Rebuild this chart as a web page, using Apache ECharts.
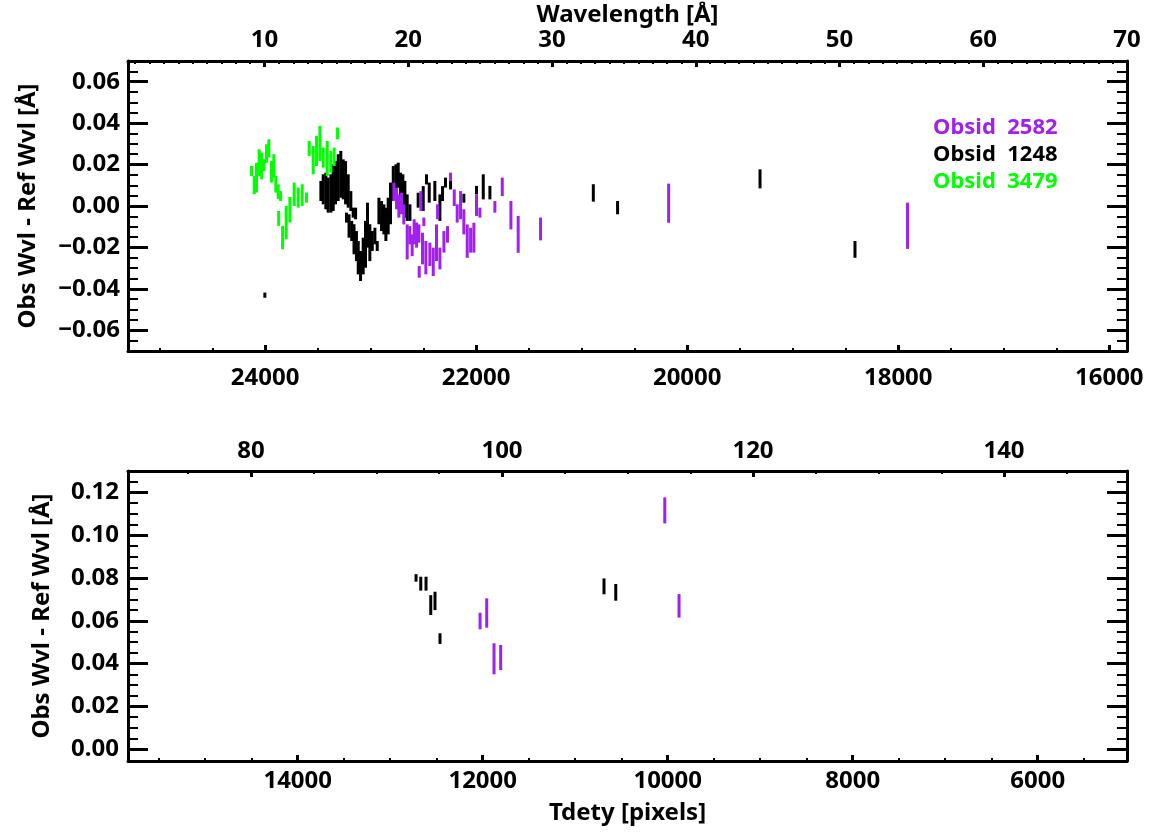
<!DOCTYPE html>
<html>
<head>
<meta charset="utf-8">
<title>Obs Wvl - Ref Wvl vs Tdety</title>
<script src="https://cdn.jsdelivr.net/npm/echarts@6/dist/echarts.min.js"></script>
<style>
html, body { margin: 0; padding: 0; background: #fff; }
#chart { width: 1151px; height: 833px; }
</style>
</head>
<body>
<div id="chart"></div>
<script>
// error bars: tdety position, low and high end of each bar
const obs3479Tdety = [24129, 24104, 24082, 24057, 24034, 24012, 23987, 23965, 23940, 23918, 23899, 23876, 23854, 23872, 23835,
  23801, 23766, 23725, 23687, 23649, 23608, 23583, 23545, 23513, 23481, 23450, 23412, 23377, 23346, 23314];
const obs3479Lo = [0.0145, 0.0057, 0.0065, 0.0145, 0.0129, 0.0169, 0.0209, 0.0234, 0.0113, 0.0137, 0.0065, 0.0033, 0.0024, -0.0096, -0.0209,
  -0.0161, -0.0080, 0.0000, -0.0008, 0.0000, 0.0016, 0.0242, 0.0153, 0.0193, 0.0217, 0.0185, 0.0145, 0.0161, 0.0193, 0.0322];
const obs3479Hi = [0.0193, 0.0145, 0.0209, 0.0274, 0.0258, 0.0226, 0.0298, 0.0322, 0.0217, 0.0250, 0.0145, 0.0105, 0.0073, -0.0024, -0.0096,
  0.0000, 0.0044, 0.0113, 0.0089, 0.0105, 0.0065, 0.0314, 0.0290, 0.0338, 0.0387, 0.0282, 0.0314, 0.0266, 0.0282, 0.0379];

const obs1248Tdety = [24003,
  23472, 23450, 23425, 23403, 23377, 23355, 23333, 23308, 23283, 23260, 23238, 23213, 23188, 23166, 23143,
  23229, 23205, 23180, 23158, 23135, 23118, 23096, 23071, 23049, 23030, 23008, 22985, 22960, 22938,
  22922, 22897, 22875, 22856, 22834, 22812, 22786, 22761, 22739, 22717, 22695, 22676, 22654, 22628,
  22550, 22502, 22471, 22445, 22392, 22344, 22319, 22291, 22243, 22117, 21997, 21933, 21870,
  20890, 20660, 19310, 18410,
  12721, 12670, 12613, 12562, 12516, 12462, 10689, 10562];
const obs1248Lo = [-0.0443,
  0.0024, 0.0008, -0.0016, -0.0032, -0.0032, -0.0024, 0.0008, 0.0024, 0.0040, 0.0032, 0.0008, -0.0008, -0.0024, -0.0056, -0.0064,
  -0.0080, -0.0153, -0.0169, -0.0233, -0.0266, -0.0330, -0.0362, -0.0330, -0.0298, -0.0201, -0.0266, -0.0217, -0.0185, -0.0217,
  -0.0088, -0.0121, -0.0137, -0.0169, -0.0137, -0.0088, 0.0024, 0.0056, 0.0088, 0.0008, -0.0008, -0.0056, -0.0072, -0.0072,
  -0.0008, -0.0024, 0.0104, 0.0016, 0.0024, -0.0072, 0.0024, 0.0089, 0.0080, 0.0016, 0.0056, 0.0032, 0.0032,
  0.0021, -0.0040, 0.0085, -0.0250,
  0.0783, 0.0741, 0.0741, 0.0627, 0.0650, 0.0492, 0.0724, 0.0694];
const obs1248Hi = [-0.0418,
  0.0121, 0.0153, 0.0161, 0.0137, 0.0153, 0.0201, 0.0217, 0.0250, 0.0266, 0.0225, 0.0217, 0.0153, 0.0072, -0.0008, -0.0008,
  -0.0032, -0.0040, -0.0072, -0.0088, -0.0121, -0.0169, -0.0217, -0.0153, -0.0072, 0.0016, -0.0088, -0.0121, -0.0105, -0.0169,
  0.0040, 0.0024, 0.0008, -0.0008, 0.0040, 0.0113, 0.0193, 0.0201, 0.0209, 0.0161, 0.0153, 0.0121, 0.0056, 0.0008,
  0.0064, 0.0096, 0.0153, 0.0113, 0.0121, 0.0056, 0.0096, 0.0137, 0.0121, 0.0059, 0.0097, 0.0153, 0.0097,
  0.0105, 0.0024, 0.0177, -0.0169,
  0.0818, 0.0806, 0.0806, 0.0720, 0.0736, 0.0542, 0.0798, 0.0772];

const obs2582Tdety = [22780, 22755, 22733, 22708, 22686, 22654, 22629, 22607, 22588, 22565, 22543, 22540, 22524, 22509, 22496,
  22477, 22439, 22407, 22376, 22366, 22344, 22306, 22272, 22243, 22208, 22180, 22148, 22117, 22085, 22053,
  22022, 21997, 21965, 21823, 21753, 21671, 21602, 21390, 20176, 17912,
  12029, 11957, 11878, 11806, 10032, 9878];
const obs2582Lo = [0.0024, -0.0016, -0.0056, -0.0040, -0.0089, -0.0258, -0.0185, -0.0242, -0.0185, -0.0201, -0.0177, -0.0346, -0.0024, -0.0282, -0.0097,
  -0.0330, -0.0290, -0.0338, -0.0266, -0.0064, -0.0306, -0.0225, -0.0177, 0.0120, 0.0000, -0.0080, -0.0064, -0.0137, -0.0250, -0.0225,
  -0.0225, -0.0048, -0.0056, -0.0032, 0.0048, -0.0113, -0.0226, -0.0166, -0.0081, -0.0207,
  0.0560, 0.0568, 0.0350, 0.0370, 0.1055, 0.0615];
const obs2582Hi = [0.0112, 0.0088, 0.0056, 0.0064, 0.0008, -0.0089, -0.0097, -0.0137, -0.0064, -0.0080, -0.0089, -0.0290, 0.0072, -0.0129, -0.0056,
  -0.0169, -0.0177, -0.0201, -0.0089, 0.0008, -0.0201, -0.0121, -0.0097, 0.0161, 0.0080, 0.0008, 0.0072, -0.0016, -0.0089, -0.0105,
  -0.0081, 0.0056, -0.0008, 0.0024, 0.0137, 0.0024, -0.0048, -0.0056, 0.0108, 0.0016,
  0.0638, 0.0705, 0.0495, 0.0487, 0.1177, 0.0725];

// axis ranges and tick labels
const topTdetyRange = [15832, 25300];
const topWaveRange = [0.5, 70];
const topOffsetRange = [-0.07, 0.07];
const botTdetyRange = [5035, 15835];
const botWaveRange = [70.2, 149.8];
const botOffsetRange = [-0.0055, 0.13];

const topTdetyTicks = [16000, 18000, 20000, 22000, 24000];
const topWaveTicks = [10, 20, 30, 40, 50, 60, 70];
const topOffsetTicks = [-0.06, -0.04, -0.02, 0.00, 0.02, 0.04, 0.06];
const botTdetyTicks = [6000, 8000, 10000, 12000, 14000];
const botWaveTicks = [80, 100, 120, 140];
const botOffsetTicks = [0.00, 0.02, 0.04, 0.06, 0.08, 0.10, 0.12];

const obsNames = ["Obsid  2582", "Obsid  1248", "Obsid  3479"];
const obsColors = ["#a020f0", "#000000", "#00ff00"];

function steps(from, to, step) {
  const out = [];
  for (let v = from; v <= to + step / 100; v += step) out.push(Math.round(v * 10000) / 10000);
  return out;
}

const FONT = "Noto Sans";
const labelStyle = { color: "#000", fontFamily: FONT, fontWeight: "bold", fontSize: 24 };

function majorAxis(grid, pos, range, ticks, opts) {
  const vertical = pos === "left" || pos === "right";
  const ax = {
    type: "value",
    gridIndex: grid,
    position: pos,
    min: range[0],
    max: range[1],
    inverse: !!opts.inverse,
    axisLine: { show: true, onZero: false, lineStyle: { color: "#000", width: 3 } },
    axisTick: {
      show: true, inside: true, length: vertical ? 20 : 6,
      customValues: ticks, lineStyle: { color: "#000", width: 3 }
    },
    axisLabel: {
      show: !!opts.labels, customValues: ticks, margin: opts.margin || 10,
      formatter: opts.fmt || (v => String(v)), ...labelStyle
    },
    splitLine: { show: false },
    minorTick: { show: false }
  };
  if (opts.name) {
    ax.name = opts.name;
    ax.nameLocation = "middle";
    ax.nameGap = opts.nameGap;
    if (vertical) ax.nameRotate = 90;
    ax.nameTextStyle = { ...labelStyle };
  }
  return ax;
}

function minorAxis(grid, pos, range, ticks, inverse) {
  const vertical = pos === "left" || pos === "right";
  return {
    type: "value",
    gridIndex: grid,
    position: pos,
    min: range[0],
    max: range[1],
    inverse: !!inverse,
    axisLine: { show: false, onZero: false },
    axisTick: {
      show: true, inside: true, length: vertical ? 10 : 3,
      customValues: ticks, lineStyle: { color: "#000", width: 2 }
    },
    axisLabel: { show: false },
    splitLine: { show: false }
  };
}

const offsetFmt = v => v.toFixed(2).replace("-", "\u2212");

const xAxes = [
  // top panel
  majorAxis(0, "bottom", topTdetyRange, topTdetyTicks, { inverse: true, labels: true, margin: 15 }),
  minorAxis(0, "bottom", topTdetyRange, steps(16000, 25000, 500), true),
  majorAxis(0, "top", topWaveRange, topWaveTicks, { labels: true, margin: 9, name: "Wavelength [\u00c5]", nameGap: 30 }),
  minorAxis(0, "top", topWaveRange, steps(1, 70, 1), false),
  // bottom panel
  majorAxis(1, "bottom", botTdetyRange, botTdetyTicks, { inverse: true, labels: true, margin: 8, name: "Tdety [pixels]", nameGap: 40 }),
  minorAxis(1, "bottom", botTdetyRange, steps(5500, 15500, 500), true),
  majorAxis(1, "top", botWaveRange, botWaveTicks, { labels: true, margin: 8 }),
  minorAxis(1, "top", botWaveRange, steps(75, 145, 5), false)
];

const yAxes = [
  majorAxis(0, "left", topOffsetRange, topOffsetTicks, { labels: true, margin: 8, fmt: offsetFmt, name: "Obs Wvl - Ref Wvl [\u00c5]", nameGap: 88 }),
  minorAxis(0, "left", topOffsetRange, steps(-0.065, 0.065, 0.005), false),
  majorAxis(0, "right", topOffsetRange, topOffsetTicks, {}),
  minorAxis(0, "right", topOffsetRange, steps(-0.065, 0.065, 0.005), false),
  majorAxis(1, "left", botOffsetRange, botOffsetTicks, { labels: true, margin: 9, fmt: offsetFmt, name: "Obs Wvl - Ref Wvl [\u00c5]", nameGap: 74 }),
  minorAxis(1, "left", botOffsetRange, steps(0, 0.125, 0.005), false),
  majorAxis(1, "right", botOffsetRange, botOffsetTicks, {}),
  minorAxis(1, "right", botOffsetRange, steps(0, 0.125, 0.005), false)
];

function bars(tdety, lo, hi, inTop) {
  const out = [];
  for (let i = 0; i < tdety.length; i++) {
    const top = tdety[i] > topTdetyRange[0];
    if (top === inTop) out.push([tdety[i], lo[i], hi[i]]);
  }
  return out;
}

function renderBar(params, api) {
  const x = api.value(0);
  const p1 = api.coord([x, api.value(1)]);
  const p2 = api.coord([x, api.value(2)]);
  return {
    type: "rect",
    shape: { x: p1[0] - 1.5, y: p2[1], width: 3, height: Math.max(p1[1] - p2[1], 1) },
    style: { fill: api.visual("color") }
  };
}

const obsSets = [
  { tdety: obs1248Tdety, lo: obs1248Lo, hi: obs1248Hi, color: obsColors[1] },
  { tdety: obs2582Tdety, lo: obs2582Lo, hi: obs2582Hi, color: obsColors[0] },
  { tdety: obs3479Tdety, lo: obs3479Lo, hi: obs3479Hi, color: obsColors[2] }
];

const series = [];
[true, false].forEach((inTop, panel) => {
  obsSets.forEach(s => {
    series.push({
      type: "custom",
      xAxisIndex: panel * 4,
      yAxisIndex: panel * 4,
      renderItem: renderBar,
      itemStyle: { color: s.color },
      encode: { x: 0, y: [1, 2] },
      data: bars(s.tdety, s.lo, s.hi, inTop),
      clip: true,
      silent: true
    });
  });
});

const legendText = obsNames.map((name, i) => ({
  type: "text",
  left: 933,
  top: 117 + i * 27,
  style: { text: name, fill: obsColors[i], font: "bold 22px '" + FONT + "'" }
}));

const chart = echarts.init(document.getElementById("chart"), null, { renderer: "canvas" });
chart.setOption({
  animation: false,
  backgroundColor: "#fff",
  grid: [
    { left: 128, top: 61, width: 999, height: 290 },
    { left: 128, top: 471, width: 999, height: 290 }
  ],
  xAxis: xAxes,
  yAxis: yAxes,
  series: series,
  graphic: legendText
});
</script>
</body>
</html>
